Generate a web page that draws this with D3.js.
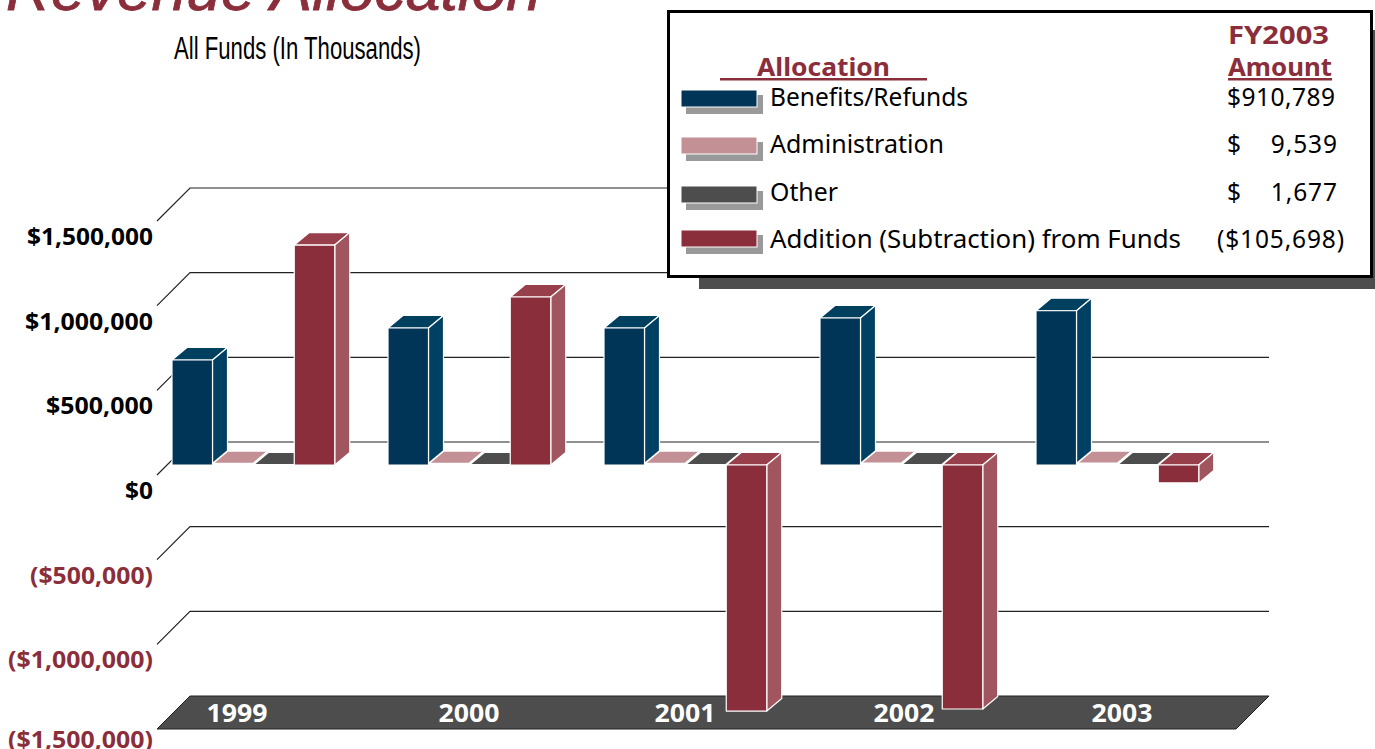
<!DOCTYPE html>
<html><head><meta charset="utf-8">
<script src="https://cdn.jsdelivr.net/npm/d3@7/dist/d3.min.js"></script>
<style>html,body{margin:0;padding:0;background:#fff;overflow:hidden}svg{display:block}</style>
</head><body><svg id="c" width="1375" height="749"></svg>
<script>
const years = ["1999","2000","2001","2002","2003"];
const seriesNames = ["Benefits/Refunds","Administration","Other","Addition (Subtraction) from Funds"];
const benefits = [620000,809000,809000,868000,910789];
const administration = [9000,9000,9200,9400,9539];
const other = [1700,1700,1700,1700,1677];
const addition = [1299000,992000,-1453000,-1441000,-105698];
const tickValues = [1500000,1000000,500000,0,-500000,-1000000,-1500000];
const tickLabels = ["$1,500,000","$1,000,000","$500,000","$0","($500,000)","($1,000,000)","($1,500,000)"];
const legendAmounts = ["$910,789","$    9,539","$    1,677","($105,698)"];

const MAROON="#8b2e3b";
const seriesValues=[benefits,administration,other,addition];
const colors=[
 {front:"#003557",side:"#004063",top:"#00405f"},
 {front:"#c29095",side:"#c29095",top:"#c29095"},
 {front:"#4d4d4d",side:"#4d4d4d",top:"#4d4d4d"},
 {front:"#8b2e3b",side:"#a0555f",top:"#973f4a"}];
const svg=d3.select("#c");
const yBack=d3.scaleLinear().domain([-1500000,1500000]).range([696,188]);
const wallDX=33, wallDY=33, barDX=15, barDY=12.5, frontOff=23;
const yFront=v=>yBack(v)+frontOff;
const x0=d3.scaleBand().domain(years).range([172,1252]);
const x1=d3.scaleBand().domain(d3.range(4)).range([0,163]);
const barW=40.5;

// title
svg.append("text").attr("x",6).attr("y",10).attr("font-family","Liberation Sans").attr("font-style","italic")
 .attr("font-size",60).attr("fill",MAROON).attr("stroke",MAROON).attr("stroke-width",0.8)
 .attr("textLength",535).attr("lengthAdjust","spacingAndGlyphs").text("Revenue Allocation");
svg.append("text").attr("x",174).attr("y",59).attr("font-family","Liberation Sans Narrow, Liberation Sans").attr("font-size",31)
 .attr("fill","#000").attr("textLength",247).attr("lengthAdjust","spacingAndGlyphs").text("All Funds (In Thousands)");

// grid
const gridPath=v=>`M${190-wallDX},${yBack(v)+wallDY}L190,${yBack(v)}L1269,${yBack(v)}`;
svg.append("g").selectAll("path").data(tickValues.slice(0,-1)).join("path").attr("d",gridPath)
 .attr("fill","none").attr("stroke","#222").attr("stroke-width",1.2);

// floor
const fy=yBack(-1500000);
svg.append("path").attr("d",`M190,${fy}L1269,${fy}L${1269-wallDX},${fy+wallDY}L${190-wallDX},${fy+wallDY}Z`)
 .attr("fill","#4d4d4d").attr("stroke","#222").attr("stroke-width",1);

// year labels
const yearNudge=[-16,0,0,3,5];
svg.append("g").selectAll("text").data(years).join("text")
 .attr("x",(d,i)=>x0(d)+81+yearNudge[i]-30.5).attr("y",722)
 .attr("font-family","Noto Sans").attr("font-weight",700).attr("font-size",25)
 .attr("textLength",61).attr("lengthAdjust","spacingAndGlyphs").attr("fill","#fff").text(d=>d);

// tick labels
const labelBase=v=>yBack(v)+ (v===-1500000?52:57);
const labelW=[126,128,107,28,123,145,145];
svg.append("g").selectAll("text").data(tickValues).join("text")
 .attr("x",(d,i)=>153-labelW[i]).attr("y",d=>labelBase(d))
 .attr("font-family","Noto Sans").attr("font-weight",700).attr("font-size",22.5)
 .attr("textLength",(d,i)=>labelW[i]).attr("lengthAdjust","spacingAndGlyphs")
 .attr("fill",d=>d<0?MAROON:"#000").text((d,i)=>tickLabels[i]);

// bars
const barsG=svg.append("g");
years.forEach((yr,i)=>{
 seriesValues.forEach((vals,s)=>{
  const v=vals[i], x=x0(yr)+x1(s), w=barW;
  const yT=yFront(Math.max(v,0)), yB=yFront(Math.min(v,0));
  const c=colors[s], g=barsG.append("g").attr("stroke","#fff").attr("stroke-width",1.2).attr("stroke-linejoin","round");
  const tall=(yB-yT)>4;
  g.append("path").attr("d",`M${x},${yT}L${x+barDX},${yT-barDY}L${x+w+barDX},${yT-barDY}L${x+w},${yT}Z`)
   .attr("fill",c.top).attr("stroke-width",tall?1.2:1.6);
  if(tall){
   g.append("path").attr("d",`M${x+w},${yT}L${x+w+barDX},${yT-barDY}L${x+w+barDX},${yB-barDY}L${x+w},${yB}Z`).attr("fill",c.side);
   g.append("rect").attr("x",x).attr("y",yT).attr("width",w).attr("height",yB-yT).attr("fill",c.front);
  }
 });
});

// legend
const lg=svg.append("g");
lg.append("rect").attr("x",699).attr("y",30).attr("width",680).attr("height",259).attr("fill","#4d4d4d");
lg.append("rect").attr("x",668.5).attr("y",11.5).attr("width",703).attr("height",265).attr("fill","#fff").attr("stroke","#000").attr("stroke-width",3);
const head=(t,x,y,len)=>lg.append("text").attr("x",x).attr("y",y)
 .attr("font-family","Noto Sans").attr("font-weight",700).attr("font-size",25).attr("fill",MAROON)
 .attr("textLength",len).attr("lengthAdjust","spacingAndGlyphs").text(t);
head("FY2003",1228,44,101);
head("Amount",1228,76,104);
head("Allocation",757,76,133);
lg.append("rect").attr("x",720).attr("y",78).attr("width",207).attr("height",2.5).attr("fill",MAROON);
lg.append("rect").attr("x",1228).attr("y",78).attr("width",104).attr("height",2.5).attr("fill",MAROON);
const rowY=[90,137,186,230], textY=[106,153,200.5,248], textW=[198,174,68,411], amtX=[1227,1227,1227,1217], amtW=[108,110,110,127];
seriesNames.forEach((n,i)=>{
 lg.append("rect").attr("x",686).attr("y",rowY[i]+5).attr("width",77).attr("height",19).attr("fill","#999");
 lg.append("rect").attr("x",681).attr("y",rowY[i]).attr("width",76).attr("height",17).attr("fill",colors[i].front).attr("stroke","#fff").attr("stroke-width",1);
 lg.append("text").attr("x",770).attr("y",textY[i]).attr("font-family","Noto Sans").attr("font-size",24.5).attr("fill","#000")
  .attr("textLength",textW[i]).attr("lengthAdjust","spacingAndGlyphs").text(n);
 lg.append("text").attr("x",amtX[i]).attr("y",textY[i]).attr("font-family","Noto Sans").attr("font-size",24.5).attr("fill","#000")
  .attr("xml:space","preserve").style("white-space","pre").attr("textLength",amtW[i]).attr("lengthAdjust","spacing").text(legendAmounts[i]);
});
</script></body></html>
